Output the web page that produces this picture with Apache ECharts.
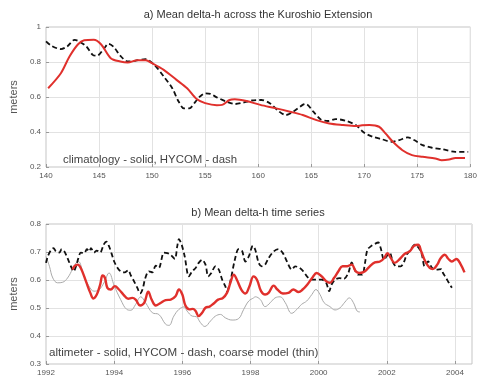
<!DOCTYPE html>
<html><head><meta charset="utf-8">
<script src="https://cdn.jsdelivr.net/npm/echarts/dist/echarts.min.js"></script>
<style>html,body{margin:0;padding:0;background:#fff}#c{width:480px;height:383px}</style>
</head><body><div id="c"></div><script>
// ---- Panel a: mean delta-h across the Kuroshio Extension (longitude) ----
const climLon = [140.2,141.4,142.2,143.0,143.6,144.5,145.2,146.1,147.0,147.7,148.6,149.4,150.0,151.1,152.3,153.3,154.2,155.0,156.1,156.6,157.3,157.8,158.9,160.2,161.7,163.0,164.2,165.5,166.7,168.0,169.2,169.8,170.5,171.4,172.0,172.7,173.6,174.5,175.5,176.7,177.3,178.0,178.6,179.5];
const climVal = [0.65,0.736,0.83,0.90,0.924,0.927,0.90,0.822,0.803,0.797,0.81,0.81,0.793,0.755,0.698,0.65,0.588,0.565,0.553,0.555,0.583,0.587,0.577,0.555,0.535,0.516,0.497,0.468,0.449,0.44,0.434,0.438,0.44,0.43,0.392,0.344,0.296,0.268,0.258,0.249,0.239,0.243,0.252,0.252];
const hycomLon = [140.0,140.5,141.4,142.0,142.7,143.1,143.8,144.4,144.8,145.5,145.9,146.4,147.0,147.7,148.4,149.4,150.2,151.1,151.9,152.5,153.0,153.5,154.1,154.5,155.0,155.5,156.1,157.0,157.8,158.6,159.4,160.3,161.1,162.0,162.6,163.3,164.2,164.5,165.2,165.9,166.6,167.3,168.3,169.2,170.0,170.8,171.7,172.6,173.3,174.1,174.7,175.5,176.4,177.3,178.6,179.8];
const hycomLonVal = [0.918,0.893,0.874,0.889,0.927,0.918,0.889,0.841,0.836,0.88,0.904,0.885,0.836,0.803,0.807,0.816,0.784,0.717,0.65,0.574,0.535,0.535,0.574,0.602,0.621,0.618,0.598,0.574,0.56,0.568,0.58,0.583,0.564,0.516,0.497,0.516,0.555,0.56,0.516,0.472,0.463,0.474,0.463,0.44,0.396,0.373,0.358,0.344,0.354,0.369,0.354,0.325,0.31,0.302,0.287,0.287];

// ---- Panel b: mean delta-h time series ----
const altYear = [1992.78,1992.83,1992.93,1993.02,1993.17,1993.30,1993.39,1993.49,1993.59,1993.66,1993.73,1993.80,1993.90,1994.02,1994.14,1994.27,1994.41,1994.53,1994.63,1994.76,1994.88,1995.00,1995.10,1995.22,1995.36,1995.51,1995.66,1995.80,1995.90,1996.00,1996.09,1996.21,1996.31,1996.39,1996.48,1996.58,1996.68,1996.80,1996.92,1997.05,1997.19,1997.31,1997.41,1997.51,1997.60,1997.73,1997.85,1997.97,1998.09,1998.19,1998.31,1998.43,1998.53,1998.68,1998.79,1998.95,1999.11,1999.26,1999.41,1999.53,1999.67,1999.83,1999.94,2000.09,2000.22,2000.33,2000.45,2000.58,2000.70,2000.84,2000.97,2001.09,2001.21,2001.36,2001.50,2001.65,2001.80,2001.92,2002.02,2002.12,2002.23,2002.38,2002.53,2002.67,2002.80,2002.92,2003.01,2003.13,2003.26,2003.35,2003.48,2003.58,2003.70,2003.81,2003.91,2004.04,2004.16,2004.28];
const altVal = [0.637,0.649,0.655,0.643,0.596,0.554,0.534,0.548,0.584,0.616,0.607,0.572,0.566,0.578,0.566,0.548,0.533,0.536,0.530,0.509,0.518,0.558,0.530,0.509,0.518,0.528,0.530,0.542,0.566,0.548,0.509,0.495,0.497,0.489,0.471,0.483,0.501,0.505,0.516,0.530,0.536,0.554,0.590,0.619,0.601,0.566,0.552,0.578,0.613,0.601,0.560,0.548,0.554,0.580,0.566,0.552,0.554,0.566,0.557,0.566,0.584,0.611,0.625,0.613,0.596,0.590,0.607,0.631,0.649,0.649,0.655,0.631,0.625,0.631,0.649,0.663,0.666,0.678,0.696,0.678,0.661,0.675,0.694,0.702,0.722,0.726,0.702,0.666,0.643,0.639,0.655,0.678,0.690,0.675,0.666,0.675,0.658,0.627];
const hycYear = [1992.00,1992.05,1992.15,1992.22,1992.29,1992.39,1992.46,1992.54,1992.63,1992.73,1992.81,1992.88,1992.95,1993.02,1993.12,1993.20,1993.27,1993.32,1993.41,1993.49,1993.59,1993.69,1993.77,1993.85,1993.92,1994.00,1994.10,1994.19,1994.31,1994.41,1994.49,1994.58,1994.68,1994.76,1994.83,1994.90,1994.97,1995.02,1995.12,1995.22,1995.31,1995.46,1995.56,1995.66,1995.78,1995.85,1995.90,1995.98,1996.07,1996.19,1996.29,1996.39,1996.48,1996.58,1996.68,1996.76,1996.85,1996.97,1997.07,1997.17,1997.26,1997.31,1997.41,1997.54,1997.65,1997.75,1997.85,1997.95,1998.07,1998.14,1998.24,1998.33,1998.43,1998.53,1998.68,1998.82,1998.95,1999.07,1999.21,1999.31,1999.44,1999.55,1999.70,1999.83,1999.94,2000.09,2000.22,2000.31,2000.38,2000.48,2000.61,2000.74,2000.87,2000.97,2001.06,2001.16,2001.28,2001.36,2001.43,2001.53,2001.65,2001.75,2001.82,2001.92,2001.99,2002.09,2002.18,2002.28,2002.41,2002.51,2002.58,2002.70,2002.82,2002.94,2003.03,2003.11,2003.21,2003.33,2003.45,2003.60,2003.65,2003.74,2003.82,2003.91];
const hycVal = [0.661,0.684,0.708,0.714,0.702,0.698,0.710,0.702,0.678,0.649,0.631,0.649,0.678,0.698,0.696,0.710,0.702,0.714,0.698,0.705,0.698,0.726,0.737,0.720,0.696,0.666,0.643,0.631,0.627,0.635,0.616,0.596,0.572,0.552,0.566,0.601,0.625,0.631,0.627,0.651,0.643,0.698,0.696,0.690,0.675,0.720,0.746,0.726,0.684,0.613,0.631,0.643,0.661,0.672,0.655,0.613,0.625,0.649,0.637,0.601,0.578,0.560,0.596,0.672,0.710,0.705,0.666,0.684,0.722,0.708,0.661,0.649,0.655,0.678,0.702,0.710,0.696,0.666,0.637,0.649,0.643,0.631,0.607,0.601,0.601,0.601,0.590,0.560,0.584,0.601,0.607,0.604,0.625,0.663,0.637,0.619,0.619,0.661,0.708,0.720,0.729,0.734,0.714,0.672,0.684,0.696,0.663,0.649,0.649,0.666,0.690,0.708,0.726,0.714,0.690,0.649,0.666,0.643,0.637,0.639,0.625,0.607,0.590,0.572];
const coarseYear = [1992.00,1992.10,1992.20,1992.34,1992.49,1992.63,1992.78,1992.88,1992.95,1993.10,1993.25,1993.41,1993.56,1993.70,1993.85,1994.00,1994.19,1994.37,1994.49,1994.63,1994.78,1994.92,1995.12,1995.31,1995.51,1995.61,1995.75,1995.90,1996.05,1996.14,1996.29,1996.41,1996.53,1996.66,1996.83,1996.97,1997.12,1997.26,1997.46,1997.65,1997.80,1997.95,1998.09,1998.14,1998.29,1998.43,1998.58,1998.72,1998.87,1999.02,1999.21,1999.36,1999.50,1999.65,1999.80,1999.92,2000.04,2000.16,2000.33,2000.48,2000.63,2000.77,2000.90,2001.02,2001.13,2001.21];
const coarseVal = [0.684,0.649,0.607,0.590,0.592,0.607,0.639,0.661,0.666,0.620,0.580,0.560,0.566,0.590,0.625,0.580,0.530,0.495,0.492,0.513,0.540,0.519,0.483,0.477,0.442,0.438,0.471,0.495,0.504,0.489,0.471,0.469,0.448,0.434,0.454,0.471,0.477,0.465,0.457,0.462,0.495,0.525,0.536,0.540,0.530,0.505,0.519,0.536,0.540,0.519,0.481,0.495,0.513,0.525,0.548,0.566,0.548,0.519,0.505,0.493,0.501,0.521,0.536,0.519,0.489,0.486];

const topTitle = 'a) Mean delta-h across the Kuroshio Extension';
const botTitle = 'b) Mean delta-h time series';
const topNote = 'climatology - solid, HYCOM - dash';
const botNote = 'altimeter - solid, HYCOM - dash, coarse model (thin)';
const yName = 'meters';

const zip = (a, b) => a.map((v, i) => [v, b[i]]);
const FONT = "'Liberation Sans', Arial, sans-serif";
const RED = '#e0302c';
const LABEL = { color: '#555', fontSize: 8, fontFamily: FONT, margin: 5 };

function valAxis(gi, min, max, interval, extra) {
  return Object.assign({
    type: 'value', gridIndex: gi, min, max, interval,
    axisLine: { show: false },
    axisTick: { show: true, inside: true, length: 3, lineStyle: { color: '#999' } },
    splitLine: { show: true, lineStyle: { color: '#e2e2e2', width: 1 } },
    axisLabel: Object.assign({}, LABEL)
  }, extra || {});
}
const nameStyle = { color: '#555', fontSize: 11, fontFamily: FONT };

const chart = echarts.init(document.getElementById('c'), null, { renderer: 'canvas' });
chart.setOption({
  animation: false,
  backgroundColor: '#fff',
  grid: [
    { left: 45, right: 8, top: 27, height: 140, show: true, borderColor: '#c4c4c4', borderWidth: 1, backgroundColor: 'transparent' },
    { left: 45, right: 8, top: 224, height: 140, show: true, borderColor: '#c4c4c4', borderWidth: 1, backgroundColor: 'transparent' }
  ],
  xAxis: [
    valAxis(0, 140, 180, 5),
    valAxis(1, 1992, 2004.5, 2, { axisLabel: Object.assign({}, LABEL, { showMaxLabel: false, formatter: v => (v % 2 === 0 ? String(v) : '') }) })
  ],
  yAxis: [
    valAxis(0, 0.2, 1, 0.2, { name: yName, nameLocation: 'middle', nameGap: 23, nameTextStyle: nameStyle }),
    valAxis(1, 0.3, 0.8, 0.1, { name: yName, nameLocation: 'middle', nameGap: 23, nameTextStyle: nameStyle })
  ],
  graphic: [
    { type: 'text', x: 258, y: 15, style: { text: topTitle, fill: '#333', font: '11px ' + FONT, textAlign: 'center', textVerticalAlign: 'middle' } },
    { type: 'text', x: 258, y: 213, style: { text: botTitle, fill: '#333', font: '11px ' + FONT, textAlign: 'center', textVerticalAlign: 'middle' } },
    { type: 'text', x: 63, y: 160, z: 10, style: { text: topNote, fill: '#444', font: '11.4px ' + FONT, textAlign: 'left', textVerticalAlign: 'middle' } },
    { type: 'text', x: 49, y: 353, z: 10, style: { text: botNote, fill: '#444', font: '11.6px ' + FONT, textAlign: 'left', textVerticalAlign: 'middle' } }
  ],
  series: [
    { type: 'line', xAxisIndex: 0, yAxisIndex: 0, data: zip(hycomLon, hycomLonVal), showSymbol: false, smooth: 0.3,
      lineStyle: { color: '#111', width: 1.8, type: [5, 3] } },
    { type: 'line', xAxisIndex: 0, yAxisIndex: 0, data: zip(climLon, climVal), showSymbol: false, smooth: 0.3,
      lineStyle: { color: RED, width: 2 } },
    { type: 'line', xAxisIndex: 1, yAxisIndex: 1, data: zip(coarseYear, coarseVal), showSymbol: false, smooth: 0.4,
      lineStyle: { color: '#aaaaaa', width: 1 } },
    { type: 'line', xAxisIndex: 1, yAxisIndex: 1, data: zip(hycYear, hycVal), showSymbol: false, smooth: 0.3,
      lineStyle: { color: '#111', width: 1.8, type: [5, 3] } },
    { type: 'line', xAxisIndex: 1, yAxisIndex: 1, data: zip(altYear, altVal), showSymbol: false, smooth: 0.4,
      lineStyle: { color: RED, width: 2.4 } }
  ]
});
</script></body></html>
